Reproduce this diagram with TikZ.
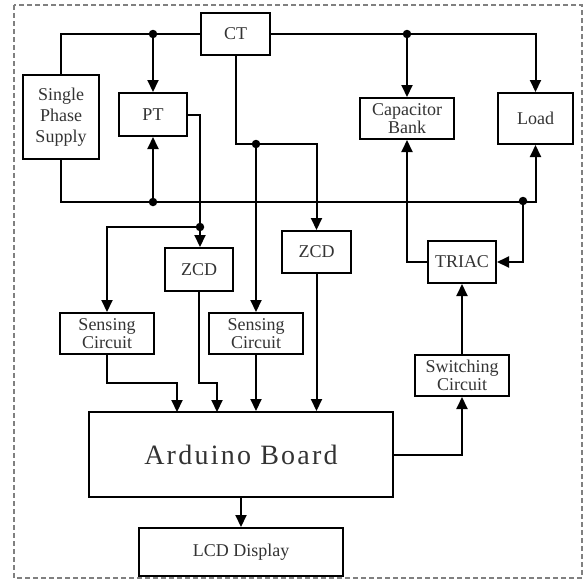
\documentclass[tikz,border=0pt]{standalone}
\usepackage{fontspec}
\setmainfont{Liberation Serif}
\usetikzlibrary{arrows.meta,calc}
\definecolor{txt}{HTML}{333333}
\begin{document}
\begin{tikzpicture}[x=1pt,y=-1pt,
  blk/.style={draw=black,line width=2pt,rectangle,inner sep=0pt,align=center,text=txt,
    font=\fontsize{18}{18}\selectfont},
  wire/.style={line width=2pt,draw=black},
  arr/.style={wire,-{Triangle[length=12pt,width=11pt]}},
  dot/.style={circle,fill=black,inner sep=0pt,minimum size=8.5pt}]
\useasboundingbox (0,0) rectangle (586,582);
\draw[gray,line width=1.5pt,dash pattern=on 5pt off 3pt] (14,5) rectangle (582,578);
% blocks
\node[blk,minimum width=69pt,minimum height=42pt] (ct) at (235.5,34) {CT};
\node[blk,minimum width=76pt,minimum height=84pt,font=\fontsize{18}{21}\selectfont] (sps) at (61,117) {Single\\Phase\\Supply};
\node[blk,minimum width=68pt,minimum height=43pt] (pt) at (153,114.5) {PT};
\node[blk,minimum width=94pt,minimum height=41pt] (cb) at (407,118.5) {Capacitor\\Bank};
\node[blk,minimum width=75pt,minimum height=51pt] (load) at (535.5,118.5) {Load};
\node[blk,minimum width=68pt,minimum height=43pt] (zcdA) at (199,269.5) {ZCD};
\node[blk,minimum width=69pt,minimum height=42pt] (zcdB) at (316.5,252) {ZCD};
\node[blk,minimum width=68pt,minimum height=42pt] (triac) at (462,262) {TRIAC};
\node[blk,minimum width=94pt,minimum height=41pt] (scA) at (107,333.5) {Sensing\\Circuit};
\node[blk,minimum width=94pt,minimum height=41pt] (scB) at (256,333.5) {Sensing\\Circuit};
\node[blk,minimum width=94pt,minimum height=41pt] (swc) at (462,375.5) {Switching\\Circuit};
\node[blk,minimum width=304pt,minimum height=85pt,font=\fontsize{28}{30}\selectfont\addfontfeature{LetterSpace=8}] (ard) at (241,454.5) {Arduino Board};
\node[blk,minimum width=204pt,minimum height=48pt] (lcd) at (241,552) {LCD Display};
% junction coordinates
\coordinate (jt1) at (pt.north |- ct.west);
\coordinate (jt2) at (cb.north |- ct.east);
\coordinate (bl) at ($(sps.south)+(0,42)$);
\coordinate (jb1) at (pt.south |- bl);
\coordinate (jb2) at (523,201);
\coordinate (ctc) at ($(ct.south)+(0,88)$);
\coordinate (jc) at (scB.north |- ctc);
\coordinate (pte) at ($(pt.east)+(12,0)$);
\coordinate (jp) at (pte |- 0,227);
\coordinate (sA) at ($(scA.south)+(0,28)$);
\coordinate (zA) at (zcdA.south |- sA);
% top bus
\draw[wire] (sps.north) |- (ct.west);
\draw[arr] (ct.east) -| (load.north);
\draw[arr] (jt1) -- (pt.north);
\draw[arr] (jt2) -- (cb.north);
% bottom bus
\draw[arr] (sps.south) -- (bl) -| (load.south);
\draw[arr] (jb1) -- (pt.south);
\draw[arr] (jb2) |- (triac.east);
% CT output
\draw[arr] (ct.south) -- (ctc) -| (zcdB.north);
\draw[arr] (jc) -- (scB.north);
% PT output
\draw[arr] (pt.east) -- (pte) -- (pte |- zcdA.north);
\draw[arr] (jp) -| (scA.north);
% TRIAC / capacitor
\draw[arr] (triac.west) -| (cb.south);
\draw[arr] (swc.north) -- (triac.south);
\draw[arr] (ard.east) -| (swc.south);
% into Arduino
\draw[arr] (scA.south) -- (sA) -| (177,412);
\draw[arr] (zcdA.south) -- (zA) -| (217,412);
\draw[arr] (scB.south) -- (scB.south |- ard.north);
\draw[arr] (zcdB.south) -- (zcdB.south |- ard.north);
\draw[arr] (ard.south) -- (lcd.north);
% dots
\foreach \p in {jt1,jt2,jb1,jb2,jc,jp} \node[dot] at (\p) {};
\end{tikzpicture}
\end{document}
